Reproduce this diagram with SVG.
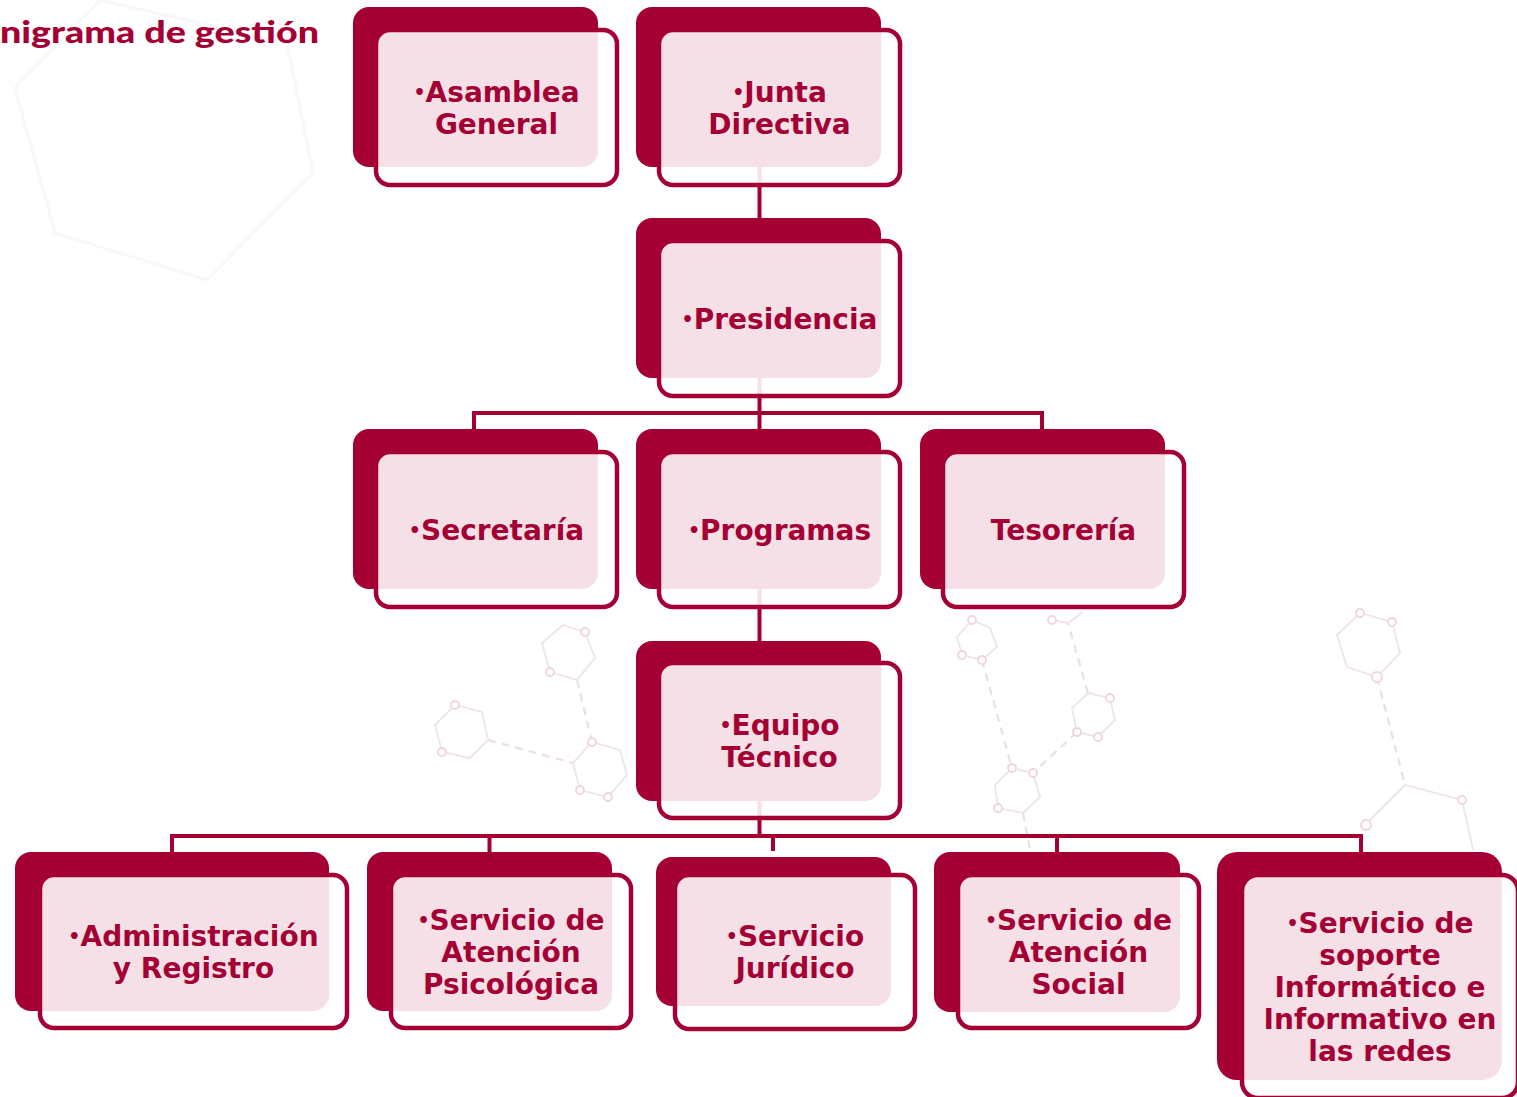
<svg xmlns="http://www.w3.org/2000/svg" width="1517" height="1097" viewBox="0 0 1517 1097">
  <style>
    .back { fill: #A50034; }
    .front { fill: #ffffff; fill-opacity: 0.88; stroke: #A50034; stroke-width: 4.5; }
    .lbl { font-family: "DejaVu Sans", Verdana, sans-serif; font-weight: 700; font-size: 28px; fill: #A50034; text-anchor: middle; }
    .b { font-size: 19px; }
    .title { font-family: Lato, "Liberation Sans", sans-serif; font-weight: 900; font-size: 30px; fill: #A50034; }
    .link { stroke: #A50034; stroke-width: 4; fill: none; stroke-linecap: butt; }
    .bond { fill: none; stroke: #eee4e8; stroke-width: 1.8; }
    .dash { fill: none; stroke: #ebdfe4; stroke-width: 2.2; stroke-dasharray: 8 6; }
    .atom { fill: #ffffff; stroke: #f1d3de; stroke-width: 1.8; }
    .ghost { fill: none; stroke: #fbf7f9; stroke-width: 3; }
  </style>

  <rect x="0" y="0" width="1517" height="1097" fill="#ffffff"/>

  <!-- faint molecule pattern in the background -->
  <g id="backdrop">
    <polygon class="ghost" points="15,88 55,233 207,280 313,173 287,43 100,0"/>

    <polygon class="bond" points="563,625 585,632 595,658 577,680 550,672 542,643"/>
    <polygon class="bond" points="455,705 482,712 488,740 470,758 442,752 435,725"/>
    <polygon class="bond" points="592,742 620,750 627,775 608,797 580,790 573,763"/>
    <line class="dash" x1="488" y1="740" x2="573" y2="763"/>
    <line class="dash" x1="577" y1="680" x2="592" y2="742"/>
    <circle class="atom" cx="585" cy="632" r="4"/>
    <circle class="atom" cx="550" cy="672" r="4"/>
    <circle class="atom" cx="455" cy="705" r="4"/>
    <circle class="atom" cx="442" cy="752" r="4"/>
    <circle class="atom" cx="592" cy="742" r="4"/>
    <circle class="atom" cx="580" cy="790" r="4"/>
    <circle class="atom" cx="608" cy="797" r="4"/>

    <polygon class="bond" points="972,620 990,628 997,647 982,660 962,655 957,637"/>
    <polygon class="bond" points="1088,693 1110,698 1115,720 1098,737 1077,732 1072,708"/>
    <polygon class="bond" points="1012,768 1033,773 1040,797 1023,813 998,808 995,785"/>
    <line class="dash" x1="982" y1="660" x2="1012" y2="768"/>
    <line class="dash" x1="1077" y1="732" x2="1033" y2="773"/>
    <line class="dash" x1="1088" y1="693" x2="1068" y2="623"/>
    <line class="dash" x1="1023" y1="813" x2="1030" y2="850"/>
    <polyline class="bond" points="1052,620 1068,623 1083,612"/>
    <circle class="atom" cx="1052" cy="620" r="4"/>
    <circle class="atom" cx="972" cy="620" r="4"/>
    <circle class="atom" cx="962" cy="655" r="4"/>
    <circle class="atom" cx="982" cy="660" r="4"/>
    <circle class="atom" cx="1110" cy="698" r="4"/>
    <circle class="atom" cx="1077" cy="732" r="4"/>
    <circle class="atom" cx="1098" cy="737" r="4"/>
    <circle class="atom" cx="1012" cy="768" r="4"/>
    <circle class="atom" cx="1033" cy="773" r="4"/>
    <circle class="atom" cx="998" cy="808" r="4"/>

    <polygon class="bond" points="1360,613 1392,622 1400,653 1377,677 1347,667 1337,635"/>
    <line class="dash" x1="1377" y1="677" x2="1405" y2="785"/>
    <polyline class="bond" points="1365,825 1405,785 1462,800 1473,850"/>
    <circle class="atom" cx="1360" cy="613" r="4"/>
    <circle class="atom" cx="1392" cy="622" r="4"/>
    <circle class="atom" cx="1377" cy="677" r="5"/>
    <circle class="atom" cx="1462" cy="800" r="4"/>
    <circle class="atom" cx="1366" cy="825" r="5"/>
  </g>

  <text class="title" x="0" y="43" textLength="319" lengthAdjust="spacingAndGlyphs">nigrama de gestión</text>

  <!-- connectors (drawn under the boxes) -->
  <g id="connectors">
    <line class="link" x1="759.5" y1="150" x2="759.5" y2="836"/>
    <polyline class="link" points="474,430 474,413 1042,413 1042,430"/>
    <line class="link" x1="170" y1="836" x2="1363" y2="836"/>
    <line class="link" x1="172" y1="834" x2="172" y2="853"/>
    <line class="link" x1="489.5" y1="836" x2="489.5" y2="853"/>
    <line class="link" x1="773" y1="836" x2="773" y2="851"/>
    <line class="link" x1="1057" y1="836" x2="1057" y2="853"/>
    <line class="link" x1="1361" y1="834" x2="1361" y2="853"/>
  </g>

  <g id="n-asamblea">
    <rect class="back" x="353" y="7" width="245" height="160" rx="16"/>
    <rect class="front" x="376" y="30" width="241" height="155" rx="14"/>
    <text class="lbl"><tspan x="496.5" y="101.5"><tspan class="b" dy="-3">•</tspan><tspan dy="3">Asamblea</tspan></tspan><tspan x="496.5" y="133.5">General</tspan></text>
  </g>

  <g id="n-junta">
    <rect class="back" x="636" y="7" width="245" height="160" rx="16"/>
    <rect class="front" x="659" y="30" width="241" height="155" rx="14"/>
    <text class="lbl"><tspan x="779.5" y="101.5"><tspan class="b" dy="-3">•</tspan><tspan dy="3">Junta</tspan></tspan><tspan x="779.5" y="133.5">Directiva</tspan></text>
  </g>

  <g id="n-presidencia">
    <rect class="back" x="636" y="218" width="245" height="160" rx="16"/>
    <rect class="front" x="659" y="241" width="241" height="155" rx="14"/>
    <text class="lbl" x="779.5" y="328.5"><tspan class="b" dy="-3">•</tspan><tspan dy="3">Presidencia</tspan></text>
  </g>

  <g id="n-secretaria">
    <rect class="back" x="353" y="429" width="245" height="160" rx="16"/>
    <rect class="front" x="376" y="452" width="241" height="155" rx="14"/>
    <text class="lbl" x="496.5" y="539.5"><tspan class="b" dy="-3">•</tspan><tspan dy="3">Secretaría</tspan></text>
  </g>

  <g id="n-programas">
    <rect class="back" x="636" y="429" width="245" height="160" rx="16"/>
    <rect class="front" x="659" y="452" width="241" height="155" rx="14"/>
    <text class="lbl" x="779.5" y="539.5"><tspan class="b" dy="-3">•</tspan><tspan dy="3">Programas</tspan></text>
  </g>

  <g id="n-tesoreria">
    <rect class="back" x="920" y="429" width="245" height="160" rx="16"/>
    <rect class="front" x="943" y="452" width="241" height="155" rx="14"/>
    <text class="lbl" x="1063.5" y="539.5">Tesorería</text>
  </g>

  <g id="n-equipo">
    <rect class="back" x="636" y="641" width="245" height="160" rx="16"/>
    <rect class="front" x="659" y="663" width="241" height="155" rx="14"/>
    <text class="lbl"><tspan x="779.5" y="734.5"><tspan class="b" dy="-3">•</tspan><tspan dy="3">Equipo</tspan></tspan><tspan x="779.5" y="766.5">Técnico</tspan></text>
  </g>

  <g id="n-administracion">
    <rect class="back" x="15" y="852" width="314" height="159" rx="16"/>
    <rect class="front" x="40" y="875" width="307" height="153" rx="14"/>
    <text class="lbl"><tspan x="193.5" y="945.5"><tspan class="b" dy="-3">•</tspan><tspan dy="3">Administración</tspan></tspan><tspan x="193.5" y="977.5">y Registro</tspan></text>
  </g>

  <g id="n-psicologica">
    <rect class="back" x="367" y="852" width="245" height="159" rx="16"/>
    <rect class="front" x="391" y="875" width="240" height="153" rx="14"/>
    <text class="lbl"><tspan x="511" y="929.5"><tspan class="b" dy="-3">•</tspan><tspan dy="3">Servicio de</tspan></tspan><tspan x="511" y="961.5">Atención</tspan><tspan x="511" y="993.5">Psicológica</tspan></text>
  </g>

  <g id="n-juridico">
    <rect class="back" x="656" y="857" width="235" height="149" rx="16"/>
    <rect class="front" x="675" y="875" width="240" height="154" rx="14"/>
    <text class="lbl"><tspan x="795" y="946"><tspan class="b" dy="-3">•</tspan><tspan dy="3">Servicio</tspan></tspan><tspan x="795" y="978">Jurídico</tspan></text>
  </g>

  <g id="n-social">
    <rect class="back" x="934" y="852" width="246" height="160" rx="16"/>
    <rect class="front" x="958" y="875" width="241" height="153" rx="14"/>
    <text class="lbl"><tspan x="1078.5" y="929.5"><tspan class="b" dy="-3">•</tspan><tspan dy="3">Servicio de</tspan></tspan><tspan x="1078.5" y="961.5">Atención</tspan><tspan x="1078.5" y="993.5">Social</tspan></text>
  </g>

  <g id="n-soporte">
    <rect class="back" x="1217" y="852" width="285" height="228" rx="20"/>
    <rect class="front" x="1242" y="875" width="276" height="223" rx="16"/>
    <text class="lbl"><tspan x="1380" y="932.5"><tspan class="b" dy="-3">•</tspan><tspan dy="3">Servicio de</tspan></tspan><tspan x="1380" y="964.5">soporte</tspan><tspan x="1380" y="996.5">Informático e</tspan><tspan x="1380" y="1028.5">Informativo en</tspan><tspan x="1380" y="1060.5">las redes</tspan></text>
  </g>
</svg>
